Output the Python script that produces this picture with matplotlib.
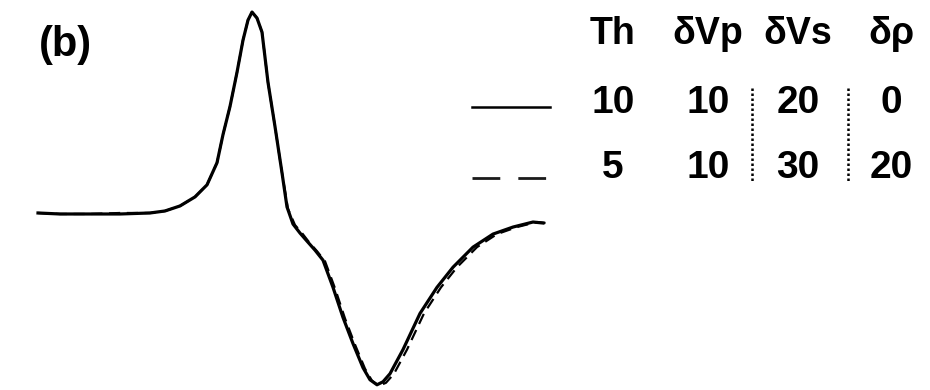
import matplotlib
matplotlib.use("Agg")
import matplotlib.pyplot as plt
from matplotlib.lines import Line2D

plt.rcParams['font.family'] = ['Liberation Sans', 'DejaVu Sans']

# waveform: time (samples) and normalised amplitude
t_solid = [0, 22, 52, 82, 112, 127, 142, 157, 169, 179, 185, 192, 199, 205,
           210, 214, 219, 224, 230, 237, 244, 249, 255, 262, 269, 277, 285,
           295, 305, 315, 325, 332, 339, 345, 352, 365, 382, 399, 415, 435,
           455, 475, 495, 505]
a_solid = [0.0, -0.005, -0.005, -0.005, 0.0, 0.01, 0.035, 0.08, 0.14, 0.25,
           0.39, 0.53, 0.70, 0.86, 0.96, 1.0, 0.97, 0.90, 0.65, 0.43, 0.20,
           0.03, -0.055, -0.10, -0.14, -0.185, -0.235, -0.37, -0.52, -0.65,
           -0.77, -0.83, -0.855, -0.84, -0.80, -0.68, -0.50, -0.37, -0.27,
           -0.17, -0.105, -0.07, -0.045, -0.05]

t_dash = [0, 22, 52, 82, 112, 127, 142, 157, 169, 179, 185, 192, 199, 205,
          210, 214, 219, 224, 230, 237, 244, 250, 257, 264, 271, 279, 287,
          297, 307, 317, 327, 334, 341, 348, 356, 369, 386, 403, 419, 439,
          459, 479, 499, 508]
a_dash = [0.0, -0.005, -0.005, 0.0, 0.0, 0.01, 0.035, 0.08, 0.14, 0.25,
          0.39, 0.53, 0.70, 0.86, 0.96, 1.0, 0.97, 0.90, 0.65, 0.43, 0.20,
          0.02, -0.06, -0.10, -0.145, -0.19, -0.24, -0.375, -0.525, -0.655,
          -0.775, -0.835, -0.86, -0.845, -0.80, -0.68, -0.50, -0.37, -0.27,
          -0.17, -0.105, -0.07, -0.045, -0.05]

# legend table
headers = ['Th', 'δVp', 'δVs', 'δρ']
th = [10, 5]
dvp = [10, 10]
dvs = [20, 30]
drho = [0, 20]

fig = plt.figure(figsize=(9.3, 3.9), dpi=100)
ax = fig.add_axes([0, 0, 1, 1])
ax.plot(t_solid, a_solid, color='black', lw=2.3, solid_joinstyle='round')
ax.plot(t_dash, a_dash, color='black', lw=1.6, linestyle=(0, (5, 3)))
ax.set_xlim(-38, 892)
ax.set_ylim(-0.881, 1.06)
ax.axis('off')

fig.text(0.042, 0.885, '(b)', fontsize=30, fontweight='bold', va='center')

# sample lines
fig.add_artist(Line2D([0.508, 0.591], [0.726, 0.726], color='black', lw=1.8,
                      transform=fig.transFigure))
fig.add_artist(Line2D([0.508, 0.589], [0.544, 0.544], color='#1a1a1a', lw=2.0,
                      linestyle=(0, (10, 6.5)), transform=fig.transFigure))

col_x = [0.659, 0.761, 0.858, 0.958]
head_y = 0.912
row_y = [0.735, 0.57]
for x, h in zip(col_x, headers):
    fig.text(x, head_y, h, fontsize=27, fontweight='bold', ha='center', va='center')
for i in range(2):
    vals = [th[i], dvp[i], dvs[i], drho[i]]
    for x, v in zip(col_x, vals):
        fig.text(x, row_y[i], str(v), fontsize=28, fontweight='bold',
                 ha='center', va='center')

# dotted separators
for xs in [0.8085, 0.912]:
    fig.add_artist(Line2D([xs, xs], [0.774, 0.533], color='black', lw=1.8,
                          linestyle=(0, (1, 1)), transform=fig.transFigure))

fig.savefig('out.png', dpi=100)
